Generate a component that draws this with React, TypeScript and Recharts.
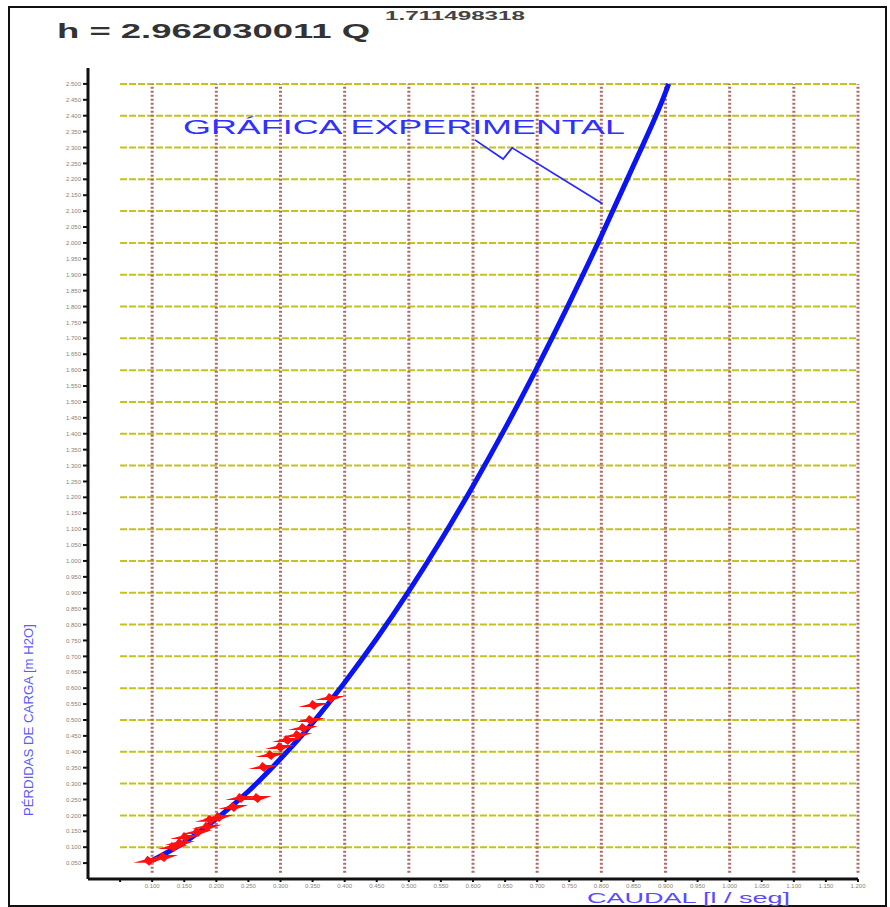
import { ComposedChart, Line, Scatter, XAxis, YAxis, ReferenceLine } from 'recharts'

// curva ajustada (Q en l/seg, h en m H2O)
const CAUDAL_CURVA = [0.1, 0.15, 0.2, 0.25, 0.3, 0.35, 0.4, 0.45, 0.5, 0.55, 0.6, 0.65, 0.7, 0.75, 0.8, 0.85, 0.9, 0.905]
const PERDIDA_CURVA = [0.058, 0.115, 0.189, 0.276, 0.378, 0.491, 0.618, 0.756, 0.905, 1.065, 1.236, 1.417, 1.609, 1.811, 2.022, 2.243, 2.473, 2.5]

// puntos medidos (marcas rojas)
const CAUDAL_MEDIDO = [0.094, 0.117, 0.132, 0.143, 0.151, 0.17, 0.185, 0.19, 0.203, 0.226, 0.237, 0.263, 0.273, 0.284, 0.299, 0.31, 0.326, 0.335, 0.346, 0.351, 0.377]
const PERDIDA_MEDIDA = [0.057, 0.069, 0.101, 0.113, 0.132, 0.148, 0.164, 0.186, 0.195, 0.226, 0.255, 0.255, 0.352, 0.39, 0.415, 0.437, 0.453, 0.475, 0.5, 0.547, 0.569]

// línea de la anotación
const FLECHA_Q = [0.603, 0.647, 0.661, 0.802]
const FLECHA_H = [2.324, 2.264, 2.299, 2.123]

const X_TICKS = Array.from({ length: 24 }, (_, i) => +((i + 1) * 0.05).toFixed(3))
const Y_TICKS = Array.from({ length: 50 }, (_, i) => +((i + 1) * 0.05).toFixed(3))
const GRID_X = Array.from({ length: 12 }, (_, i) => +((i + 1) * 0.1).toFixed(2))
const GRID_Y = Array.from({ length: 25 }, (_, i) => +((i + 1) * 0.1).toFixed(2))

const curva = CAUDAL_CURVA.map((q, i) => ({ q, h: PERDIDA_CURVA[i] }))
const medidos = CAUDAL_MEDIDO.map((q, i) => ({ q, h: PERDIDA_MEDIDA[i] }))
const flecha = FLECHA_Q.map((q, i) => ({ q, h: FLECHA_H[i] }))

const Estrella = (p: any) => {
  const { cx, cy } = p
  if (cx == null || cy == null) return <g />
  const pts = [[-15, 2], [-4, -1], [-1, -5], [3, -2], [15, -2], [4, 2], [1, 5], [-3, 2]]
  return <polygon points={pts.map(([x, y]) => `${cx + x},${cy + y}`).join(' ')} fill="#ff1010" />
}

const tickStyle = { fontSize: 6, fill: '#8a7f78', fontFamily: 'Liberation Sans, Arial' }

export default function App() {
  return (
    <div style={{ position: 'absolute', left: 0, top: 0, width: 890, height: 907, background: '#fff' }}>
      <ComposedChart width={890} height={907} margin={{ top: 68, right: 32, bottom: 8, left: 48 }}>
        <XAxis
          type="number"
          dataKey="q"
          domain={[0, 1.2]}
          ticks={X_TICKS}
          interval={0}
          height={20}
          tick={tickStyle}
          tickFormatter={(v: number) => (v < 0.075 ? '' : v.toFixed(3))}
          axisLine={{ stroke: '#111', strokeWidth: 3 }}
          tickLine={{ stroke: '#111', strokeWidth: 2 }}
          tickSize={3}
          allowDataOverflow
        />
        <YAxis
          type="number"
          dataKey="h"
          domain={[0, 2.55]}
          ticks={Y_TICKS}
          interval={0}
          width={40}
          tick={tickStyle}
          tickFormatter={(v: number) => v.toFixed(3)}
          axisLine={{ stroke: '#111', strokeWidth: 3 }}
          tickLine={{ stroke: '#111', strokeWidth: 2 }}
          tickSize={5}
          allowDataOverflow
        />
        {GRID_Y.map((y) => (
          <ReferenceLine
            key={'gy' + y}
            segment={[{ x: 0.05, y }, { x: 1.2, y }]}
            stroke="#c4c21c"
            strokeWidth={2}
            strokeDasharray="7 2"
          />
        ))}
        {GRID_X.map((x) => (
          <ReferenceLine
            key={'gx' + x}
            segment={[{ x, y: 0.02 }, { x, y: 2.5 }]}
            stroke="#b26a6a"
            strokeWidth={3}
            strokeDasharray="2 2"
          />
        ))}
        <Line
          data={curva}
          dataKey="h"
          type="monotone"
          stroke="#0a14f5"
          strokeWidth={5}
          dot={false}
          isAnimationActive={false}
        />
        <Scatter data={medidos} dataKey="h" shape={Estrella} isAnimationActive={false} />
        <Line
          data={flecha}
          dataKey="h"
          type="linear"
          stroke="#2a2aff"
          strokeWidth={1.8}
          dot={false}
          isAnimationActive={false}
        />
      </ComposedChart>
      <svg
        width={890}
        height={907}
        style={{ position: 'absolute', left: 0, top: 0, pointerEvents: 'none' }}
      >
        <rect x={9} y={7} width={877} height={899} fill="none" stroke="#111" strokeWidth={2} />
        <text x={57} y={38} fontSize={21} fontWeight={700} fill="#333" fontFamily="Liberation Sans, Arial" textLength={313} lengthAdjust="spacingAndGlyphs">
          h = 2.962030011 Q
        </text>
        <text x={385} y={20} fontSize={12} fontWeight={700} fill="#444" fontFamily="Liberation Sans, Arial" textLength={140} lengthAdjust="spacingAndGlyphs">
          1.711498318
        </text>
        <text x={183} y={134} fontSize={21} fill="#3030ff" fontFamily="Liberation Sans, Arial" textLength={442} lengthAdjust="spacingAndGlyphs">
          GRÁFICA EXPERIMENTAL
        </text>
        <text x={587} y={903} fontSize={14} fill="#5a4bff" fontFamily="Liberation Sans, Arial" textLength={203} lengthAdjust="spacingAndGlyphs">
          CAUDAL [l / seg]
        </text>
        <text
          x={0}
          y={0}
          transform="translate(33 720) rotate(-90)"
          textAnchor="middle"
          fontSize={13}
          fill="#5a5aff"
          fontFamily="Liberation Sans, Arial"
          textLength={192}
          lengthAdjust="spacingAndGlyphs"
        >
          PÉRDIDAS DE CARGA [m H2O]
        </text>
      </svg>
    </div>
  )
}
